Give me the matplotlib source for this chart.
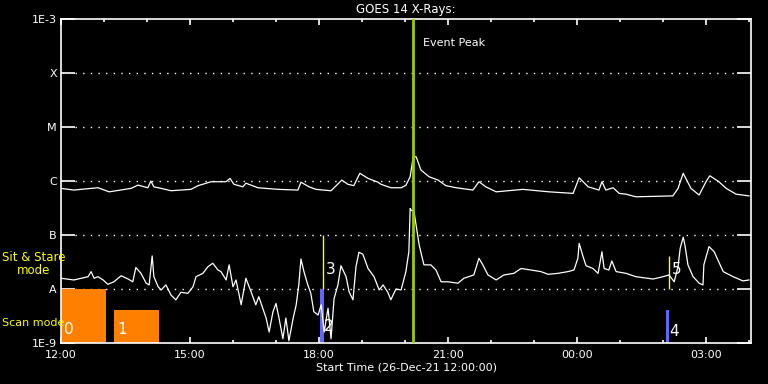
import matplotlib
matplotlib.use('Agg')
import matplotlib.pyplot as plt
import numpy as np

# hours after 26-Dec-21 12:00
long_t = [0.00, 0.30, 0.70, 0.86, 1.12, 1.63, 1.79, 2.02, 2.09, 2.16, 2.33, 2.56, 3.02, 3.19,
          3.49, 3.84, 3.93, 4.02, 4.23, 4.30, 4.58, 5.05, 5.51, 5.58, 5.77, 5.93, 6.28, 6.40,
          6.53, 6.67, 6.81, 6.95, 7.14, 7.37, 7.44, 7.67, 7.91, 8.02, 8.12, 8.19, 8.26, 8.37,
          8.56, 8.77, 8.95, 9.19, 9.58, 9.72, 9.88, 10.12, 10.74, 11.35, 11.91, 12.05, 12.26,
          12.51, 12.58, 12.67, 12.84, 12.98, 13.14, 13.37, 14.23, 14.35, 14.47, 14.65, 14.84,
          15.00, 15.09, 15.30, 15.47, 15.70, 16.00]
long_flux = [7.3e-7, 6.8e-7, 7.3e-7, 7.5e-7, 6.3e-7, 7.3e-7, 8.4e-7, 7.5e-7, 1.0e-6, 7.8e-7,
             7.3e-7, 6.6e-7, 7.0e-7, 8.2e-7, 9.7e-7, 9.7e-7, 1.12e-6, 8.7e-7, 7.8e-7, 9.1e-7,
             7.5e-7, 7.0e-7, 6.8e-7, 9.5e-7, 7.8e-7, 7.0e-7, 6.6e-7, 8.2e-7, 1.04e-6, 8.7e-7,
             8.2e-7, 1.39e-6, 1.12e-6, 9.5e-7, 8.7e-7, 7.5e-7, 7.5e-7, 8.3e-7, 1.2e-6, 2.8e-6,
             2.8e-6, 1.6e-6, 1.2e-6, 1.04e-6, 8.2e-7, 7.5e-7, 6.8e-7, 9.7e-7, 7.8e-7, 6.3e-7,
             7.0e-7, 6.3e-7, 5.9e-7, 1.15e-6, 7.8e-7, 6.8e-7, 9.7e-7, 6.8e-7, 7.5e-7, 5.9e-7,
             5.7e-7, 5.1e-7, 5.3e-7, 7.3e-7, 1.39e-6, 7.3e-7, 5.5e-7, 9.7e-7, 1.25e-6, 9.7e-7,
             7.3e-7, 5.7e-7, 5.3e-7]

short_t = [0.00, 0.30, 0.47, 0.63, 0.70, 0.77, 0.86, 0.98, 1.09, 1.23, 1.40, 1.56, 1.67, 1.74,
           1.86, 1.98, 2.05, 2.12, 2.16, 2.26, 2.33, 2.44, 2.56, 2.67, 2.79, 2.95, 3.07, 3.14,
           3.30, 3.42, 3.53, 3.65, 3.72, 3.84, 3.91, 4.00, 4.07, 4.19, 4.30, 4.42, 4.53, 4.60,
           4.77, 4.84, 4.93, 5.00, 5.07, 5.16, 5.23, 5.30, 5.40, 5.47, 5.53, 5.58, 5.65, 5.74,
           5.81, 5.88, 5.98, 6.05, 6.12, 6.21, 6.28, 6.35, 6.44, 6.51, 6.63, 6.70, 6.79, 6.86,
           6.93, 7.02, 7.14, 7.28, 7.40, 7.49, 7.60, 7.67, 7.79, 7.91, 8.02, 8.09, 8.12, 8.14,
           8.21, 8.33, 8.44, 8.60, 8.72, 8.84, 9.00, 9.23, 9.37, 9.60, 9.72, 9.81, 9.93, 10.12,
           10.30, 10.53, 10.70, 10.93, 11.16, 11.33, 11.56, 11.79, 11.93, 12.02, 12.05, 12.14,
           12.21, 12.37, 12.49, 12.58, 12.63, 12.74, 12.81, 12.91, 13.14, 13.37, 13.77, 14.00,
           14.14, 14.26, 14.35, 14.40, 14.47, 14.51, 14.58, 14.70, 14.84, 14.93, 14.95, 15.07,
           15.19, 15.40, 15.63, 15.86, 16.00]
short_flux = [1.58e-8, 1.47e-8, 1.58e-8, 1.69e-8, 2.1e-8, 1.58e-8, 1.69e-8, 1.47e-8, 1.22e-8,
              1.36e-8, 1.76e-8, 1.53e-8, 1.36e-8, 2.5e-8, 1.95e-8, 1.28e-8, 1.19e-8, 4.1e-8,
              1.69e-8, 1.1e-8, 9.6e-9, 1.19e-8, 7.7e-9, 6.3e-9, 8.7e-9, 8.3e-9, 1.1e-8, 1.69e-8,
              1.95e-8, 2.6e-8, 3.0e-8, 2.25e-8, 2.1e-8, 1.47e-8, 2.8e-8, 1.1e-8, 1.47e-8, 5.1e-9,
              1.58e-8, 8.9e-9, 5.1e-9, 7.2e-9, 2.9e-9, 1.6e-9, 3.8e-9, 5.4e-9, 2.9e-9, 1.2e-9,
              2.9e-9, 1.1e-9, 2.9e-9, 5.1e-9, 1.19e-8, 3.6e-8, 2.1e-8, 1.19e-8, 8.3e-9, 3.8e-9,
              3.3e-9, 5.1e-9, 1.6e-9, 4.4e-9, 1.2e-9, 6.6e-9, 1.19e-8, 2.7e-8, 1.69e-8, 8.9e-9,
              6.3e-9, 2.6e-8, 4.8e-8, 4.4e-8, 2.4e-8, 1.69e-8, 9.6e-9, 1.19e-8, 8.7e-9, 6.3e-9,
              1.0e-8, 9.6e-9, 2.1e-8, 4.9e-8, 3.1e-7, 2.9e-7, 2.7e-7, 6.5e-8, 2.8e-8, 2.8e-8,
              2.25e-8, 1.36e-8, 1.36e-8, 1.28e-8, 1.58e-8, 1.82e-8, 3.7e-8, 2.8e-8, 1.82e-8,
              1.47e-8, 1.82e-8, 1.95e-8, 2.4e-8, 2.25e-8, 2.1e-8, 1.87e-8, 1.95e-8, 2.1e-8,
              2.25e-8, 3.7e-8, 7.0e-8, 4.0e-8, 2.7e-8, 2.4e-8, 1.95e-8, 4.9e-8, 2.4e-8, 2.25e-8,
              3.3e-8, 2.1e-8, 1.95e-8, 1.69e-8, 1.53e-8, 1.69e-8, 1.82e-8, 1.36e-8, 2.6e-8,
              5.7e-8, 9.1e-8, 6.5e-8, 2.8e-8, 1.69e-8, 1.28e-8, 1.19e-8, 2.8e-8, 6.1e-8, 4.9e-8,
              2.1e-8, 1.69e-8, 1.41e-8, 1.47e-8]

# observation blocks
scan_start = [0.00, 1.23, 6.02, 14.07]
scan_end = [1.04, 2.27, 6.12, 14.14]
scan_top = [1e-8, 4.1e-9, 1e-8, 4.1e-9]
scan_ids = ['0', '1', '2', '4']
scan_kind = ['orange', 'orange', 'blue', 'blue']
stare_t = [6.09, 14.15]
stare_top = [1e-7, 4.1e-8]
stare_ids = ['3', '5']

peak_t = 8.19
levels = [1e-9, 1e-8, 1e-7, 1e-6, 1e-5, 1e-4, 1e-3]
level_labels = ['1E-9', 'A', 'B', 'C', 'M', 'X', '1E-3']
hour_ticks = [0, 3, 6, 9, 12, 15]
hour_labels = ['12:00', '15:00', '18:00', '21:00', '00:00', '03:00']

colors = {'orange': '#ff8000', 'blue': '#6464ff'}

fig = plt.figure(figsize=(7.68, 3.84), dpi=100, facecolor='black')
ax = fig.add_axes([61/768, 41/384, 690/768, 324/384], facecolor='black')
ax.set_yscale('log')
ax.set_ylim(1e-9, 1e-3)
ax.set_xlim(0, 690/43)

for s in ax.spines.values():
    s.set_color('white')
    s.set_linewidth(1.2)

# dotted level lines
for lv in levels[1:-1]:
    ax.axhline(lv, xmin=14/690, xmax=1-14/690, color='white', lw=1.0,
               linestyle=(0, (1, 4.5)), zorder=1)

for a, b, top, k, lab in zip(scan_start, scan_end, scan_top, scan_kind, scan_ids):
    ax.fill_between([a, b], 1e-9, top, color=colors[k], lw=0, zorder=2)
    if k == 'orange':
        ax.text(a + 0.08, 1.75e-9, lab, color='white', fontsize=11, ha='left', va='center', zorder=6)
    else:
        ax.text(b + 0.0, 2.0e-9 if lab == '2' else 1.65e-9, lab, color='white', fontsize=11,
                ha='left', va='center', zorder=6)

for t, top, lab in zip(stare_t, stare_top, stare_ids):
    ax.vlines(t, 1e-8, top, color='yellow', lw=1.0, zorder=3)
    ax.text(t + 0.06, 2.3e-8, lab, color='white', fontsize=11,
            ha='left', va='center', zorder=6)

ax.plot(long_t, long_flux, color='white', lw=0.9, zorder=4)
ax.plot(short_t, short_flux, color='white', lw=0.9, zorder=4)

ax.axvline(peak_t, color='#9acd00', lw=2.0, zorder=5)
ax.text(peak_t + 0.23, 10**-3.45, 'Event Peak', color='white', fontsize=8, ha='left', va='center')

ax.set_yticks(levels)
ax.set_yticklabels(level_labels)
ax.yaxis.set_minor_locator(matplotlib.ticker.NullLocator())
ax.tick_params(axis='y', which='major', direction='in', length=10, width=1.2,
               colors='white', labelsize=8, left=True, right=True, pad=3)
ax.set_xticks(hour_ticks)
ax.set_xticklabels(hour_labels)
ax.set_xticks(np.arange(0, 17), minor=True)
ax.tick_params(axis='x', which='major', direction='in', length=4.5, width=1.2,
               colors='white', labelsize=8, top=True, bottom=True, pad=5)
ax.tick_params(axis='x', which='minor', direction='in', length=2.2, width=1.2,
               colors='white', top=True, bottom=True)

ax.set_xlabel('Start Time (26-Dec-21 12:00:00)', color='white', fontsize=8, labelpad=2)
ax.set_title('GOES 14 X-Rays:', color='white', fontsize=8.5, pad=4)

fig.text(34/768, 1 - 264/384, 'Sit & Stare\nmode', color='yellow', fontsize=8.5,
         ha='center', va='center', linespacing=1.05)
fig.text(2/768, 1 - 323/384, 'Scan mode', color='yellow', fontsize=8, ha='left', va='center')

plt.savefig('out.png', dpi=100, facecolor='black')
